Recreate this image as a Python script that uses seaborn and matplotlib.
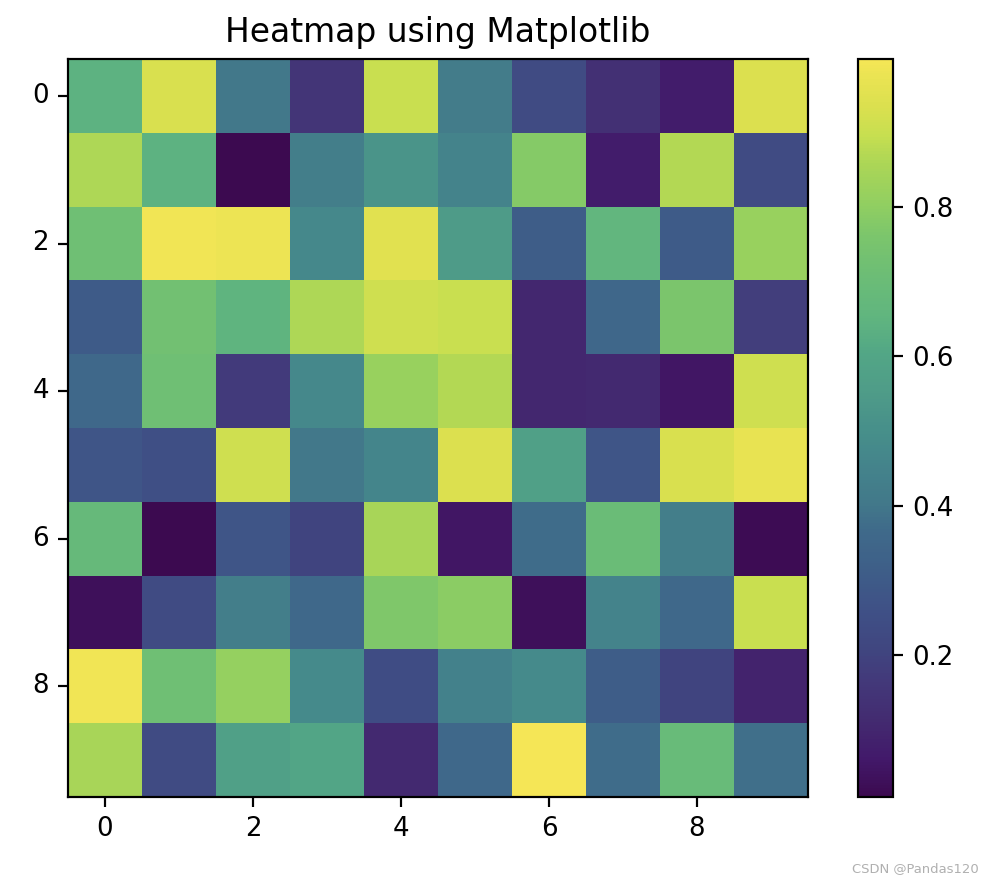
import numpy as np
import matplotlib
matplotlib.use("Agg")
import matplotlib.pyplot as plt
from matplotlib.colors import LinearSegmentedColormap
import seaborn as sns

rows = list(range(10))
cols = list(range(10))
r0 = [0.64, 0.93, 0.40, 0.15, 0.90, 0.42, 0.23, 0.13, 0.07, 0.94]
r1 = [0.86, 0.64, 0.01, 0.43, 0.52, 0.45, 0.78, 0.07, 0.87, 0.23]
r2 = [0.72, 0.99, 0.98, 0.47, 0.95, 0.55, 0.31, 0.66, 0.30, 0.82]
r3 = [0.30, 0.73, 0.65, 0.86, 0.91, 0.90, 0.10, 0.35, 0.76, 0.18]
r4 = [0.36, 0.72, 0.17, 0.47, 0.82, 0.87, 0.10, 0.11, 0.05, 0.91]
r5 = [0.28, 0.25, 0.91, 0.40, 0.46, 0.94, 0.57, 0.28, 0.93, 0.97]
r6 = [0.68, 0.012, 0.28, 0.20, 0.85, 0.05, 0.37, 0.70, 0.43, 0.02]
r7 = [0.03, 0.23, 0.43, 0.36, 0.77, 0.79, 0.03, 0.45, 0.36, 0.90]
r8 = [0.99, 0.72, 0.81, 0.48, 0.24, 0.44, 0.48, 0.31, 0.20, 0.09]
r9 = [0.85, 0.23, 0.57, 0.60, 0.11, 0.36, 0.998, 0.37, 0.69, 0.38]
data = np.array([r0, r1, r2, r3, r4, r5, r6, r7, r8, r9])

tick_labels = ["0", "2", "4", "6", "8"]
cbar_ticks = [0.2, 0.4, 0.6, 0.8]

# muted viridis as it appears in the reference
cmap_pos = [0.0, 0.05, 0.1, 0.15, 0.2, 0.25, 0.3, 0.36, 0.4, 0.45, 0.5,
            0.55, 0.6, 0.65, 0.7, 0.76, 0.8, 0.86, 0.9, 0.94, 0.98, 1.0]
cmap_col = ["#3c0a50", "#42196a", "#432a70", "#433779", "#404680", "#3f5086",
            "#3e5d88", "#3f6a8a", "#42798a", "#44848b", "#47908a",
            "#4f9c88", "#52a686", "#60b57f", "#6abc77", "#7bc56c", "#8fce62",
            "#acd656", "#c8df50", "#dce04f", "#ebe453", "#f5e656"]
cmap = LinearSegmentedColormap.from_list("muted_viridis", list(zip(cmap_pos, cmap_col)))

fig = plt.figure(figsize=(9.94 / 1.5, 8.82 / 1.5), dpi=150)
ax = fig.add_axes([68 / 994, (882 - 797) / 882, 740 / 994, 738 / 882])
cax = fig.add_axes([858 / 994, (882 - 797) / 882, 35 / 994, 738 / 882])

sns.heatmap(data, ax=ax, cbar_ax=cax, cmap=cmap,
            vmin=data.min(), vmax=data.max(),
            cbar_kws={"ticks": cbar_ticks})

pos = [i + 0.5 for i in range(0, 10, 2)]
ax.set_xticks(pos)
ax.set_xticklabels(tick_labels, rotation=0)
ax.set_yticks(pos)
ax.set_yticklabels(tick_labels, rotation=0)
ax.tick_params(length=4.7, width=1.05, labelsize=12.5, pad=4.5)
for s in ax.spines.values():
    s.set_visible(True)
    s.set_linewidth(1.05)
    s.set_color("black")
ax.set_title("Heatmap using Matplotlib", fontsize=15.8, pad=8)

cb = ax.collections[0].colorbar
cb.outline.set_visible(True)
cb.outline.set_linewidth(1.05)
cb.outline.set_edgecolor("black")
cax.tick_params(length=4.7, width=1.05, labelsize=12.5, pad=4.5)
cb.set_ticklabels(["0.2", "0.4", "0.6", "0.8"])

fig.text(0.985, 0.008, "CSDN @Pandas120", ha="right", va="bottom",
         fontsize=6.3, color="#b0b0b0")

fig.savefig("out.png", dpi=150)
